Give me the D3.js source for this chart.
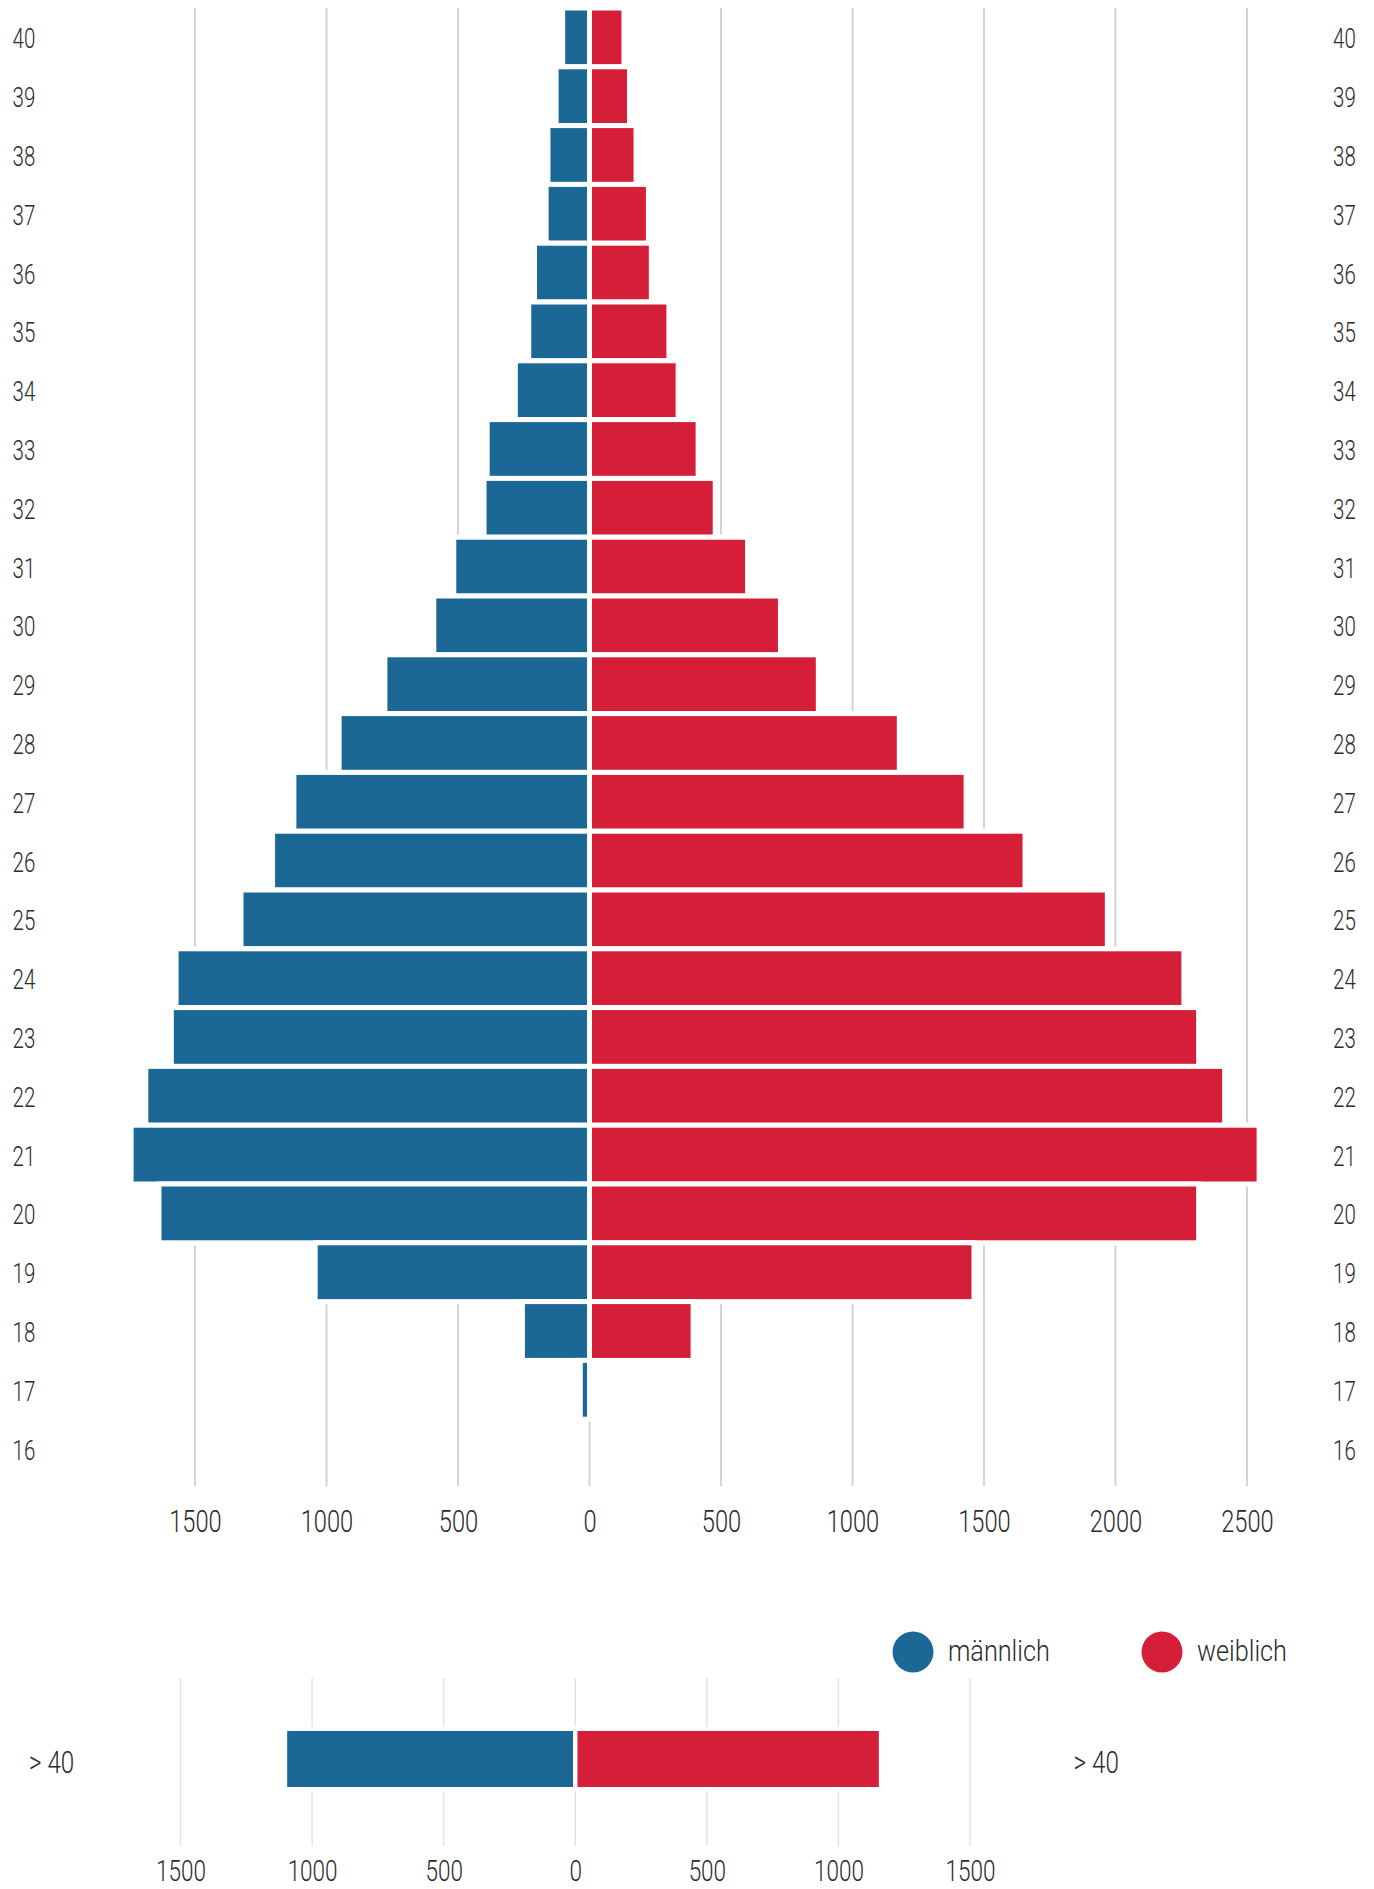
<!DOCTYPE html>
<html>
<head>
<meta charset="utf-8">
<script src="https://cdn.jsdelivr.net/npm/d3@7"></script>
<style>
  html, body { margin: 0; padding: 0; background: #ffffff; }
  svg { display: block; }
  text { font-family: Roboto, "Liberation Sans", sans-serif; fill: #2b2b2b; }
</style>
</head>
<body>
<svg id="chart" width="1374" height="1889"></svg>
<script>
// ---------- data ----------
const ages = [40, 39, 38, 37, 36, 35, 34, 33, 32, 31, 30, 29, 28, 27, 26, 25, 24, 23, 22, 21, 20, 19, 18, 17, 16];
const maleValues   = [102, 127, 158, 165, 209, 231, 282, 389, 401, 516, 592, 778, 952, 1124, 1205, 1325, 1572, 1590, 1687, 1743, 1637, 1043, 255, 35, 0];
const femaleValues = [131, 152, 177, 224, 235, 302, 337, 413, 478, 601, 726, 870, 1178, 1432, 1656, 1969, 2260, 2316, 2415, 2546, 2316, 1462, 394, 0, 0];
const topTicks = [-1500, -1000, -500, 0, 500, 1000, 1500, 2000, 2500];

const overCategory = ["> 40"];
const overMale = [1103];
const overFemale = [1162];
const bottomTicks = [-1500, -1000, -500, 0, 500, 1000, 1500];

const legendLabels = ["männlich", "weiblich"];
const BLUE = "#1b6896", RED = "#d51f38";
const GRID = "#d4d4d4";

// ---------- setup ----------
const svg = d3.select("#chart");
const rows = ages.map((a, i) => ({ age: a, m: maleValues[i], f: femaleValues[i] }));

// ---------- top pyramid ----------
const x = d3.scaleLinear().domain([-1500, 2500]).range([195, 1247]);
const y = d3.scaleBand().domain(ages).range([8, 1478]).paddingInner(0).paddingOuter(0);

const topG = svg.append("g");
topG.append("g").selectAll("line").data(topTicks).join("line")
  .attr("x1", d => x(d)).attr("x2", d => x(d))
  .attr("y1", 8).attr("y2", 1486)
  .attr("stroke", GRID).attr("stroke-width", 2);

topG.append("g").selectAll("rect").data(rows).join("rect")
  .attr("x", d => x(-d.m)).attr("width", d => x(0) - x(-d.m))
  .attr("y", d => y(d.age)).attr("height", y.bandwidth())
  .attr("fill", BLUE).attr("stroke", "#fff").attr("stroke-width", 5)
  .style("display", d => d.m > 0 ? null : "none");

topG.append("g").selectAll("rect").data(rows).join("rect")
  .attr("x", x(0)).attr("width", d => x(d.f) - x(0))
  .attr("y", d => y(d.age)).attr("height", y.bandwidth())
  .attr("fill", RED).attr("stroke", "#fff").attr("stroke-width", 5)
  .style("display", d => d.f > 0 ? null : "none");

// row labels left and right
function squeezed(g, px, py, str, size, anchor, sx) {
  g.append("text")
    .attr("transform", `translate(${px},${py}) scale(${sx},1)`)
    .attr("text-anchor", anchor)
    .style("font-size", size + "px")
    .style("font-weight", 300)
    .text(str);
}
const rowLab = topG.append("g");
ages.forEach(a => {
  const cy = y(a) + y.bandwidth() / 2 + 11;
  squeezed(rowLab, 12.5, cy, String(a), 27, "start", 0.76);
  squeezed(rowLab, 1333, cy, String(a), 27, "start", 0.76);
});

// bottom axis of top pyramid
const ax = topG.append("g").attr("transform", "translate(0,1531.5)")
  .call(d3.axisBottom(x).tickValues(topTicks).tickFormat(d => Math.abs(d)).tickSize(0).tickPadding(0));
ax.select(".domain").remove();
ax.selectAll("text")
  .attr("y", 0).attr("dy", 0)
  .attr("transform", "scale(0.74,1)")
  .style("font-size", "32px").style("font-weight", 300)
  .style("font-family", "Roboto, sans-serif").attr("fill", "#2b2b2b");

// ---------- legend ----------
const legend = svg.append("g");
const legendX = [913, 1162];
const legendColors = [BLUE, RED];
legendLabels.forEach((lab, i) => {
  legend.append("circle").attr("cx", legendX[i]).attr("cy", 1652).attr("r", 20.5).attr("fill", legendColors[i]);
  squeezed(legend, legendX[i] + 35, 1661, lab, 29, "start", 0.87);
});

// ---------- bottom (> 40) chart ----------
const x2 = d3.scaleLinear().domain([-1500, 1500]).range([180.5, 970]);
const y2 = d3.scaleBand().domain(overCategory).range([1727, 1791]);
const bot = svg.append("g");
bot.append("g").selectAll("line").data(bottomTicks).join("line")
  .attr("x1", d => x2(d)).attr("x2", d => x2(d))
  .attr("y1", 1678).attr("y2", 1846)
  .attr("stroke", "#e0e0e0").attr("stroke-width", 1.3);

const overRows = overCategory.map((c, i) => ({ c, m: overMale[i], f: overFemale[i] }));
// white band behind bars
bot.append("g").selectAll("rect").data(overRows).join("rect")
  .attr("x", d => x2(-d.m) - 2).attr("width", d => x2(d.f) - x2(-d.m) + 4)
  .attr("y", d => y2(d.c)).attr("height", y2.bandwidth())
  .attr("fill", "#fff");
bot.append("g").selectAll("rect").data(overRows).join("rect")
  .attr("x", d => x2(-d.m)).attr("width", d => x2(0) - x2(-d.m))
  .attr("y", d => y2(d.c) + 1.8).attr("height", y2.bandwidth() - 3.6)
  .attr("fill", BLUE).attr("stroke", "#fff").attr("stroke-width", 4.4);
bot.append("g").selectAll("rect").data(overRows).join("rect")
  .attr("x", x2(0)).attr("width", d => x2(d.f) - x2(0))
  .attr("y", d => y2(d.c) + 1.8).attr("height", y2.bandwidth() - 3.6)
  .attr("fill", RED).attr("stroke", "#fff").attr("stroke-width", 4.4);

overCategory.forEach(c => {
  const cy = y2(c) + y2.bandwidth() / 2 + 14;
  squeezed(bot, 29, cy, c, 31, "start", 0.78);
  squeezed(bot, 1073.6, cy, c, 31, "start", 0.78);
});

const ax2 = bot.append("g").attr("transform", "translate(0,1881)")
  .call(d3.axisBottom(x2).tickValues(bottomTicks).tickFormat(d => Math.abs(d)).tickSize(0).tickPadding(0));
ax2.select(".domain").remove();
ax2.selectAll("text")
  .attr("y", 0).attr("dy", 0)
  .attr("transform", "scale(0.75,1)")
  .style("font-size", "30px").style("font-weight", 300)
  .style("font-family", "Roboto, sans-serif").attr("fill", "#2b2b2b");
</script>
</body>
</html>
